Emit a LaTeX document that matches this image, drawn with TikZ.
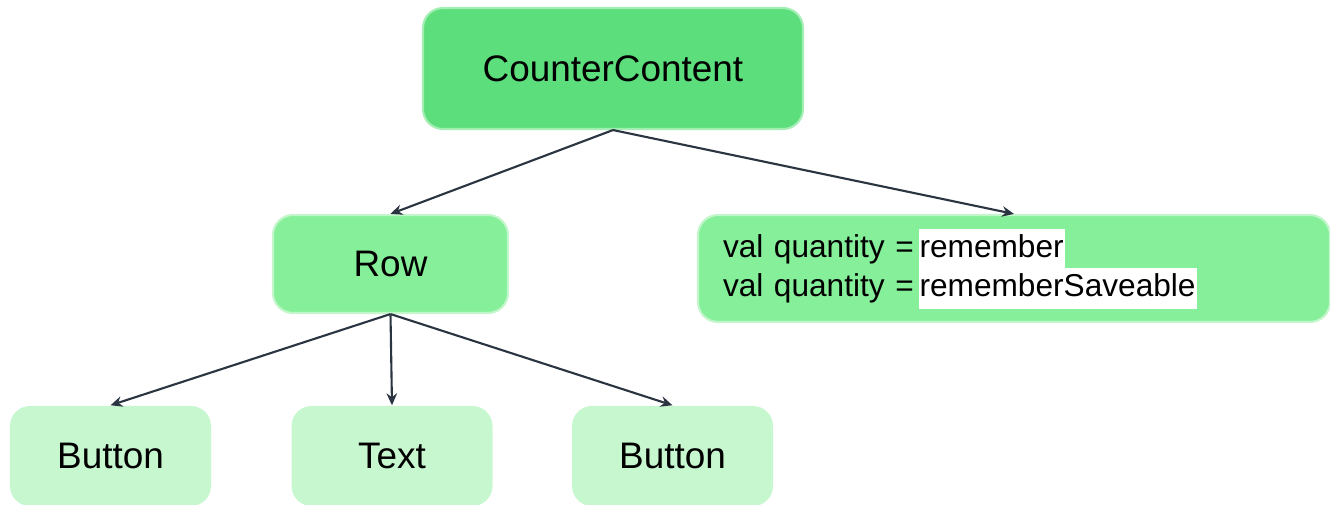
\documentclass[tikz,border=0pt]{standalone}
\usepackage{fontspec}
\setmainfont{Liberation Sans}
\usetikzlibrary{arrows.meta}

\definecolor{topgreen}{HTML}{5BDE7B}
\definecolor{topline}{HTML}{A3EEB3}
\definecolor{midgreen}{HTML}{86EF9A}
\definecolor{midline}{HTML}{C4F6CC}
\definecolor{leafgreen}{HTML}{C7F7CE}
\definecolor{linkgray}{HTML}{2B3541}

% white band behind a word, as tall as the line
\newcommand{\whitebg}[1]{\smash{\setlength{\fboxsep}{0.3pt}\colorbox{white}{\strut #1}}}

\tikzset{
    topbox/.style={draw=topline, line width=0.6pt, fill=topgreen, rounded corners=0.2cm,
        minimum width=3.8cm, minimum height=1.21cm, font=\fontsize{10.5}{12.6}\selectfont},
    midbox/.style={draw=midline, line width=0.6pt, fill=midgreen, rounded corners=0.2cm,
        font=\fontsize{10.5}{12.6}\selectfont},
    leafbox/.style={fill=leafgreen, rounded corners=0.2cm,
        minimum width=2.01cm, minimum height=1.0cm, font=\fontsize{10.5}{12.6}\selectfont},
    link/.style={-{Stealth[length=3.4pt,width=3pt]}, draw=linkgray, line width=0.6pt}
}

\begin{document}
\begin{tikzpicture}
        \useasboundingbox (0,0) rectangle (13.3,5.05);

        % composable tree
        \node[topbox] (counter) at (6.13,4.365) {CounterContent};

        \node[midbox, minimum width=2.35cm, minimum height=0.98cm] (row) at (3.905,2.41) {Row};
        \node[midbox, minimum width=6.32cm, minimum height=1.07cm, text width=5.82cm,
              inner xsep=0.25cm, align=left, font=\fontsize{9.0}{11}\selectfont]
              (state) at (10.14,2.365)
              {val quantity =\hspace{0.15em}\whitebg{remember}\\val quantity =\hspace{0.15em}\whitebg{rememberSaveable}};

        \node[leafbox] (button1) at (1.105,0.49) {Button};
        \node[leafbox] (text) at (3.92,0.49) {Text};
        \node[leafbox] (button2) at (6.725,0.49) {Button};

        \draw[link] (counter.south) -- (row.north);
        \draw[link] (counter.south) -- (state.north);

        \draw[link] (row.south) -- (button1.north);
        \draw[link] (row.south) -- (text.north);
        \draw[link] (row.south) -- (button2.north);
    \end{tikzpicture}
\end{document}
